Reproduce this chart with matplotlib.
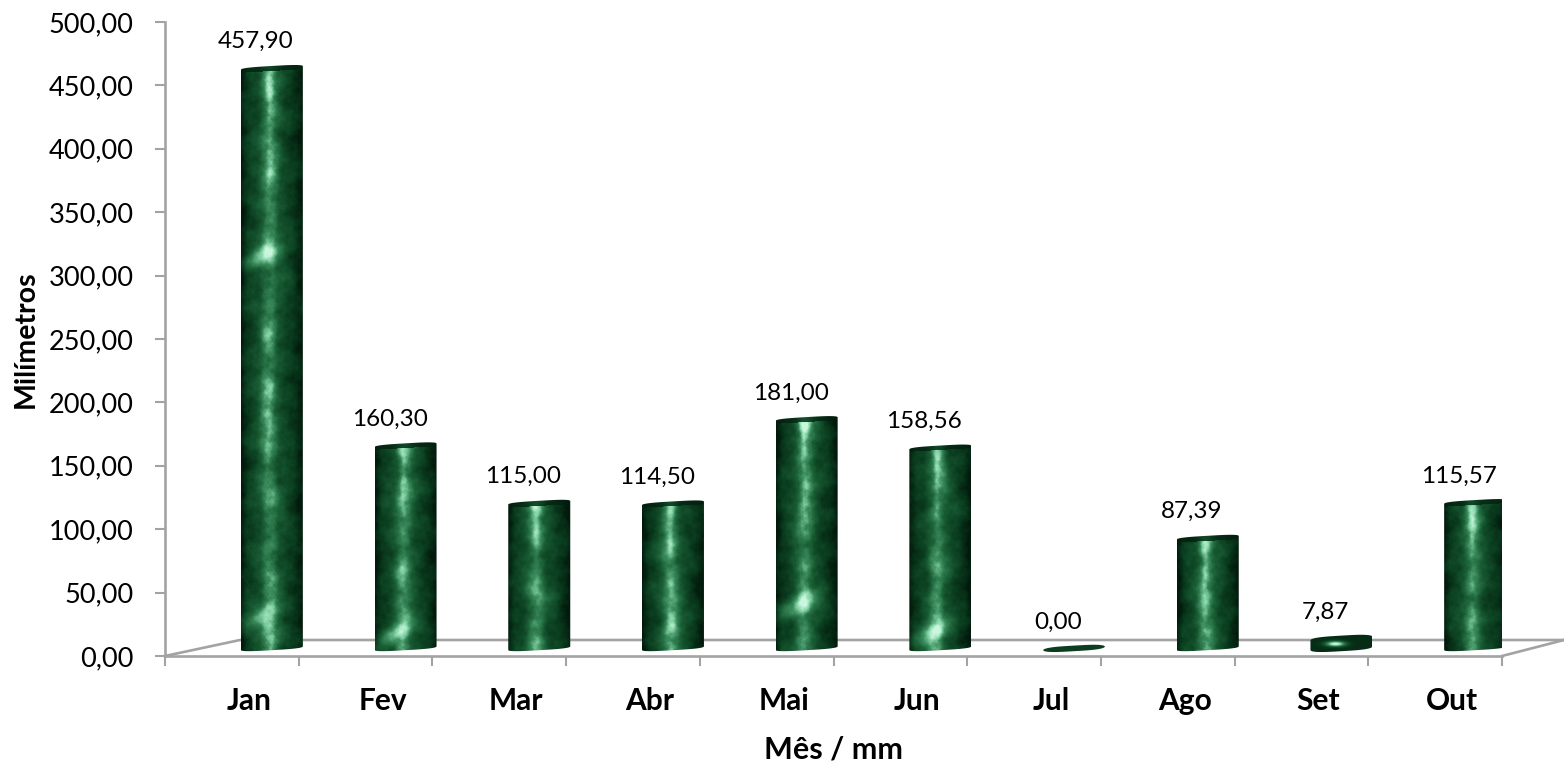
import numpy as np
import matplotlib
import matplotlib.pyplot as plt
from matplotlib.path import Path
from matplotlib.patches import PathPatch
from matplotlib.colors import LinearSegmentedColormap
from matplotlib.ticker import FuncFormatter

matplotlib.use('Agg')

months = ['Jan', 'Fev', 'Mar', 'Abr', 'Mai', 'Jun', 'Jul', 'Ago', 'Set', 'Out']
rain_mm = [457.90, 160.30, 115.00, 114.50, 181.00, 158.56, 0.00, 87.39, 7.87, 115.57]
y_ticks = [0, 50, 100, 150, 200, 250, 300, 350, 400, 450, 500]
# light patches of the fill, px above the foot of each bar
blotches = [[40, 400], [22], [], [], [50], [22], [], [], [], []]

W, H = 1564, 765
AX_L, AX_R, AX_T, AX_B = 165, 1502, 22, 656
GRAY = '#a3a3a3'

plt.rcParams['font.family'] = ['Lato', 'DejaVu Sans']

marble = LinearSegmentedColormap.from_list(
    'marble', ['#021a0c', '#0b3f20', '#1c6238', '#3a8a5c', '#7fcfa2', '#c9f7de'])


def fmt_br(v, _=None):
    return '{:.2f}'.format(v).replace('.', ',')


def mottle(xp, yp, seed):
    # layered sines at odd angles, gives something close to marble veins
    out = np.zeros_like(xp)
    amp = 1.0
    for k, wave in enumerate([46, 27, 15, 9, 5.5, 3.3]):
        for j in range(3):
            ang = (k * 2.399 + j * 1.13 + seed)
            ph = (k * 7.31 + j * 3.77 + seed * 5.1)
            out += amp * np.sin((xp * np.cos(ang) + yp * np.sin(ang)) * 6.283 / wave + ph
                                + 1.2 * np.sin(yp / 37 + xp / 19 + ph))
        amp *= 0.72
    return out / 6.0


def marble_tex(height_px, spots, seed, width_px=62):
    rows = max(int(height_px), 4)
    u = np.linspace(0, 1, width_px)
    uu, vv = np.meshgrid(u, np.linspace(0, 1, rows))
    py = vv * height_px
    foot = height_px - py
    n = mottle(uu * width_px, py, seed)

    cyl = 0.28 - 0.18 * np.abs(2 * uu - 1) ** 2.5
    centre = 0.46 + 0.015 * np.sin(py / 70 + seed)
    streak = np.exp(-((uu - centre) / 0.13) ** 2) * (0.36 + 0.05 * np.sin(py / 43 + seed)
                                                     + 0.05 * np.sin(py / 13 + 2 * seed))
    tex = cyl + 0.13 * n + streak * (1 + 0.35 * n)

    # highlight wedge just under the cap
    tex += 0.40 * np.exp(-((uu - 0.45) / (0.04 + 0.14 * np.exp(-py / 10))) ** 2) * np.exp(-py / 30)

    for c in spots:
        d = foot - c - (uu - 0.5) * 26
        tex += 0.42 * np.exp(-(d / 10) ** 2) * np.exp(-((uu - 0.33) / 0.34) ** 2)
    # darker right side, as the fill is lit from the left
    tex -= 0.10 * np.clip((uu - 0.68) / 0.32, 0, 1)
    tex -= 0.08 * np.clip((0.10 - uu) / 0.10, 0, 1)
    return np.clip(tex, 0, 1)


def cyl_path(xc, base, top, bw, ry, tilt):
    t = np.linspace(-1, 1, 61)
    arc = (1 - np.abs(t) ** 3.5) ** 0.5
    x = xc + t * bw / 2
    top_edge = np.column_stack([x, top + tilt * t + ry * arc])
    foot_edge = np.column_stack([x[::-1], base + tilt * t[::-1] - ry * arc[::-1]])
    return Path(np.vstack([top_edge, foot_edge, top_edge[:1]]))


def main():
    fig = plt.figure(figsize=(W / 100, H / 100), dpi=100)
    ax = fig.add_axes([AX_L / W, 1 - AX_B / H, (AX_R - AX_L) / W, (AX_B - AX_T) / H])

    n = len(months)
    ax.set_xlim(0, n)
    ax.set_ylim(y_ticks[0], y_ticks[-1])
    px_x = n / (AX_R - AX_L)
    px_y = (y_ticks[-1] - y_ticks[0]) / (AX_B - AX_T)

    for s in ['top', 'right']:
        ax.spines[s].set_visible(False)
    for s in ['left', 'bottom']:
        ax.spines[s].set_color(GRAY)
        ax.spines[s].set_linewidth(1.9)

    # floor of the 3d box
    floor_y = 16 * px_y
    right_end = (W - AX_L) * px_x
    ax.plot([0, 75 * px_x, right_end], [0, floor_y, floor_y], color=GRAY, lw=1.9,
            clip_on=False, zorder=1, solid_joinstyle='miter')
    ax.plot([n, right_end], [0, floor_y], color=GRAY, lw=1.9, clip_on=False, zorder=1)

    ax.set_xticks(np.arange(n + 1))
    ax.set_xticklabels([])
    ax.set_xticks(np.arange(n) + 0.5 + 17 * px_x, minor=True)
    ax.set_xticklabels(months, minor=True, fontsize=21.5, fontweight='bold')
    ax.tick_params(axis='x', which='major', length=7.5, width=1.5, color=GRAY)
    ax.tick_params(axis='x', which='minor', length=0, pad=22)
    ax.set_yticks(y_ticks)
    ax.yaxis.set_major_formatter(FuncFormatter(fmt_br))
    ax.tick_params(axis='y', length=7.5, width=1.5, color=GRAY, labelsize=19.5, pad=15)

    fig.text(833 / W, 1 - 749 / H, 'Mês / mm', ha='center', va='center', fontsize=22, fontweight='bold')
    fig.text(26 / W, 1 - 339 / H, 'Milímetros', ha='center', va='center', rotation=90,
             fontsize=20.5, fontweight='bold')

    base = 6
    bw = 62 * px_x
    for i, val in enumerate(rain_mm):
        xc = i + 0.5 + 40 * px_x
        top = base + val
        h_px = val / px_y
        tilt = 1.8 * px_y
        ry = (2.8 if h_px < 30 else 1.8) * px_y
        path = cyl_path(xc, base, top, bw, ry, tilt)
        if val > 0:
            if h_px < 30:
                # flat disc, bright spot in the middle
                yy, xx = np.mgrid[-1:1:40j, -1:1:62j]
                tex = 0.10 + 0.95 * np.exp(-((xx + 0.18) / 0.32) ** 2 - ((yy - 0.1) / 0.30) ** 2)
            else:
                tex = marble_tex(h_px + 8, blotches[i], i * 1.7)
                # cap is darker than the side
                rim = np.linspace(0, 1, tex.shape[0])[:, None] * (h_px + 8)
                slant = 7.5 + np.linspace(1.8, -1.8, tex.shape[1])[None, :]
                tex = np.where(rim < slant, tex * 0.25 + 0.02, tex)
            im = ax.imshow(tex, cmap=marble, vmin=0, vmax=1, aspect='auto', interpolation='bilinear',
                           extent=(xc - bw / 2, xc + bw / 2, base - 4 * px_y, top + 4 * px_y), zorder=3)
            patch = PathPatch(path, transform=ax.transData, facecolor='none', edgecolor='none')
            ax.add_patch(patch)
            im.set_clip_path(patch)
            im.set_clip_on(True)
        else:
            ax.add_patch(PathPatch(path, facecolor='#0c3d20', edgecolor='none', zorder=3))
        ax.text(xc - 16 * px_x, top + 26 * px_y, fmt_br(val), ha='center', va='center',
                fontsize=17.5, color='black', zorder=5)

    ax.set_xlim(0, n)
    ax.set_ylim(y_ticks[0], y_ticks[-1])
    fig.savefig('out.png', dpi=100)


if __name__ == '__main__':
    main()
